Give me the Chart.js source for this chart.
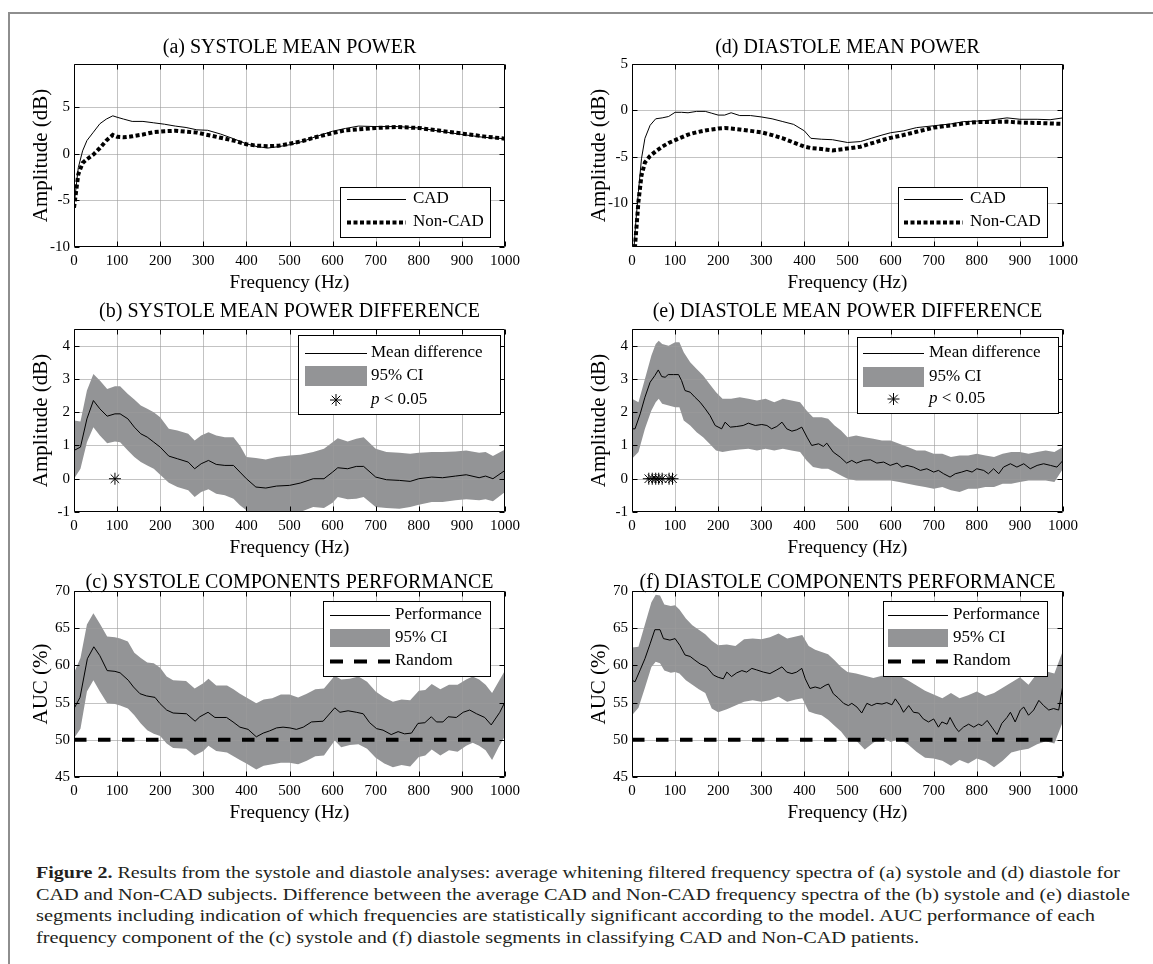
<!DOCTYPE html>
<html>
<head>
<meta charset="utf-8">
<title>Figure 2</title>
<script src="https://cdn.jsdelivr.net/npm/chart.js@4.4.1/dist/chart.umd.min.js"></script>
<style>
  html, body { margin: 0; padding: 0; background: #fff; }
  body { width: 1153px; height: 964px; position: relative; overflow: hidden; font-family: "Liberation Serif", serif; }
  #frame { position: absolute; left: 8px; top: 12px; width: 1200px; height: 1000px; border-left: 2px solid #8e8e8e; border-top: 2px solid #8e8e8e; }
  canvas { position: absolute; }
  #caption { position: absolute; left: 36px; top: 862px; font-size: 16px; line-height: 21.7px; color: #231f20; white-space: nowrap; }
  #caption div { transform-origin: 0 50%; width: max-content; }
</style>
</head>
<body>
<div id="frame"></div>
<div id="caption">
  <div><b>Figure 2.</b> Results from the systole and diastole analyses: average whitening filtered frequency spectra of (a) systole and (d) diastole for</div>
  <div>CAD and Non-CAD subjects. Difference between the average CAD and Non-CAD frequency spectra of the (b) systole and (e) diastole</div>
  <div>segments including indication of which frequencies are statistically significant according to the model. AUC performance of each</div>
  <div>frequency component of the (c) systole and (f) diastole segments in classifying CAD and Non-CAD patients.</div>
</div>
<script>
// ---- data ----
const freqTicks = [0, 100, 200, 300, 400, 500, 600, 700, 800, 900, 1000];
const ampTicks = [-10, -5, 0, 5];
const diffTicks = [-1, 0, 1, 2, 3, 4];
const aucTicks = [45, 50, 55, 60, 65, 70];
const rangeA = [-10, 9.6];
const rangeD = [-14.7, 5];
const rangeDiff = [-1, 4.5];
const rangeAuc = [45, 70];

// (a) systole mean power
const freqA = [0,10,20,30,45,60,75,90,100,115,135,160,185,210,235,260,285,310,340,370,400,425,450,475,500,530,560,600,630,660,700,750,800,850,900,950,1000];
const cadA = [-5.6,-1.5,0.3,1.4,2.3,3.2,3.7,4.05,3.9,3.7,3.45,3.45,3.3,3.15,2.95,2.8,2.55,2.5,2.1,1.6,1.05,0.75,0.6,0.75,0.95,1.3,1.8,2.4,2.7,2.95,2.9,2.9,2.75,2.4,2.05,1.75,1.6];
const nonCadA = [-5.8,-2.2,-1.0,-0.6,-0.1,0.6,1.4,2.0,1.8,1.75,1.85,2.05,2.3,2.4,2.45,2.35,2.25,2.0,1.7,1.4,1.0,0.85,0.8,0.85,1.05,1.35,1.75,2.2,2.5,2.6,2.75,2.85,2.75,2.45,2.15,1.85,1.6];

// (d) diastole mean power
const freqD = [0,8,15,22,30,42,55,70,85,100,115,130,150,170,185,200,215,230,250,275,300,325,350,375,400,415,440,465,500,530,555,580,600,630,660,700,740,770,800,830,870,900,940,970,1000];
const cadD = [-18,-12.5,-8.7,-5.2,-3.0,-1.6,-0.9,-0.8,-0.65,-0.2,-0.2,-0.25,-0.1,-0.1,-0.3,-0.5,-0.5,-0.25,-0.55,-0.55,-0.7,-0.9,-1.2,-1.5,-2.2,-3.0,-3.1,-3.15,-3.45,-3.35,-3.0,-2.65,-2.4,-2.2,-1.85,-1.65,-1.45,-1.2,-1.15,-1.05,-0.8,-0.95,-0.95,-1.0,-0.8];
const nonCadD = [-19,-14.0,-9.8,-7.0,-5.6,-4.9,-4.4,-3.9,-3.5,-3.2,-2.9,-2.6,-2.35,-2.15,-2.05,-1.95,-1.9,-1.95,-2.05,-2.2,-2.35,-2.65,-3.0,-3.45,-3.9,-4.05,-4.15,-4.3,-4.1,-3.9,-3.55,-3.2,-2.95,-2.65,-2.3,-1.85,-1.6,-1.4,-1.25,-1.25,-1.2,-1.3,-1.35,-1.4,-1.45];

// (b) systole mean power difference
const freqB = [0,15,30,45,60,77,95,107,125,140,155,170,185,200,220,240,265,280,295,312,330,350,370,385,400,422,445,470,500,525,555,580,600,612,635,655,672,700,725,755,780,800,830,855,885,910,940,955,972,1000];
const meanB = [0.85,0.95,1.8,2.35,2.1,1.88,1.95,1.95,1.8,1.55,1.35,1.25,1.1,0.95,0.68,0.6,0.5,0.3,0.45,0.55,0.43,0.4,0.4,0.2,0.0,-0.25,-0.28,-0.22,-0.2,-0.13,0.0,0.0,0.2,0.33,0.3,0.37,0.37,0.05,-0.03,-0.05,-0.08,0.0,0.05,0.03,0.08,0.12,0.03,0.08,0.0,0.25];
const upperB = [1.75,1.72,2.65,3.15,2.95,2.7,2.78,2.78,2.55,2.38,2.2,2.1,2.0,1.85,1.5,1.45,1.35,1.15,1.3,1.4,1.3,1.25,1.25,1.0,0.65,0.62,0.58,0.65,0.7,0.72,0.8,0.9,1.1,1.22,1.12,1.2,1.25,0.9,0.8,0.78,0.75,0.78,0.8,0.8,0.82,0.85,0.78,0.8,0.68,0.88];
const lowerB = [0.0,0.3,1.1,1.55,1.3,1.07,1.12,1.1,0.85,0.65,0.5,0.4,0.3,0.12,-0.12,-0.25,-0.35,-0.55,-0.4,-0.32,-0.45,-0.5,-0.6,-0.8,-0.95,-1.15,-1.2,-1.15,-1.1,-1.0,-0.85,-0.88,-0.72,-0.55,-0.62,-0.6,-0.55,-0.85,-0.88,-0.9,-0.85,-0.78,-0.7,-0.7,-0.65,-0.62,-0.65,-0.62,-0.68,-0.4];
const signifB = [95];

// (e) diastole mean power difference
const freqEMean = [0,7,19,30,42,53,61,69,77,84,96,108,115,123,135,146,158,170,181,193,208,216,228,243,258,270,286,301,313,324,336,348,359,371,382,394,406,417,433,444,452,467,483,498,510,521,537,553,568,584,599,615,626,638,653,669,684,700,711,723,738,750,765,777,789,800,816,827,839,851,862,878,893,909,924,940,955,971,986,1000];
const meanE = [1.5,1.5,1.95,2.45,2.9,3.1,3.27,3.07,3.05,3.13,3.13,3.13,2.95,2.65,2.6,2.45,2.3,2.1,1.9,1.6,1.5,1.7,1.55,1.57,1.6,1.67,1.6,1.63,1.6,1.5,1.57,1.7,1.5,1.43,1.47,1.55,1.25,1.0,1.05,0.97,1.07,0.8,0.65,0.47,0.55,0.47,0.55,0.57,0.47,0.5,0.4,0.47,0.35,0.4,0.35,0.25,0.3,0.2,0.25,0.15,0.05,0.15,0.2,0.25,0.2,0.3,0.25,0.15,0.3,0.15,0.35,0.45,0.35,0.45,0.3,0.4,0.45,0.4,0.35,0.55];
const freqEBand = [0,15,30,45,55,62,70,85,100,110,120,135,150,165,180,195,210,230,250,270,290,310,330,350,370,390,405,420,440,455,470,485,500,520,540,560,580,600,620,640,660,680,700,720,740,760,780,800,820,840,860,880,900,920,940,960,980,1000];
const upperE = [2.4,2.3,3.0,3.7,4.05,4.15,4.05,4.0,4.1,4.1,3.8,3.5,3.3,3.1,2.85,2.6,2.4,2.4,2.45,2.4,2.35,2.4,2.3,2.4,2.35,2.3,2.05,1.85,1.85,1.8,1.6,1.45,1.25,1.3,1.25,1.2,1.15,1.15,1.05,0.95,0.85,0.85,0.75,0.75,0.65,0.7,0.7,0.75,0.7,0.65,0.75,0.8,0.8,0.75,0.8,0.85,0.8,0.95];
const lowerE = [0.6,0.8,1.5,2.05,2.3,2.4,2.25,2.2,2.15,2.15,1.75,1.6,1.4,1.25,1.05,0.85,0.8,0.85,0.88,0.9,0.85,0.9,0.85,0.9,0.85,0.8,0.55,0.35,0.3,0.3,0.2,0.1,0.0,-0.05,-0.05,-0.05,-0.05,-0.05,-0.1,-0.15,-0.2,-0.25,-0.3,-0.25,-0.35,-0.4,-0.3,-0.3,-0.25,-0.25,-0.15,-0.15,-0.1,-0.05,-0.05,-0.05,-0.1,0.3];
const signifE = [39, 47, 55, 62, 70, 86, 94];

// (c) systole components performance
const freqCMean = [0,14,31,46,60,77,95,107,126,138,153,168,188,199,215,230,261,281,292,311,327,354,369,385,404,423,439,454,470,485,501,516,532,551,578,605,617,636,655,671,686,702,717,736,752,767,783,798,814,829,841,856,868,887,903,918,934,953,968,988,1000];
const perfC = [54.2,55.7,60.9,62.5,61.3,59.3,59.2,59.0,58.0,57.1,56.2,55.9,55.7,54.9,54.0,53.6,53.5,52.5,53.1,53.7,53.0,53.0,52.4,51.7,51.4,50.4,50.9,51.2,51.6,51.7,51.6,51.4,51.7,52.4,52.5,54.3,53.7,53.9,53.7,53.5,52.3,51.5,51.3,50.7,51.1,50.8,50.9,52.2,52.3,53.1,52.4,52.4,53.1,53.0,53.7,54.0,53.5,53.0,52.0,53.7,55.1];
const freqCBand = [0,15,30,45,60,77,95,107,125,140,155,170,185,200,215,230,260,280,300,312,330,355,370,385,400,423,440,460,480,500,520,540,560,580,605,620,640,660,680,700,720,740,760,780,800,815,830,850,870,890,910,925,940,955,970,985,1000];
const upperC = [59,61,65.5,67,65.6,63.9,63.8,63.6,63.2,61.7,61.0,60.4,60.3,59.7,58.5,58.0,57.9,56.9,57.6,58.2,57.3,57.3,56.8,56.2,55.7,54.9,55.4,55.6,56.1,56.1,55.7,56.2,56.8,56.9,58.6,58.1,58.2,58.5,57.8,56.5,55.7,55.1,55.4,55.3,56.6,56.7,57.5,56.8,57.4,57.4,58.1,58.5,58.1,57.4,56.3,57.8,59.3];
const lowerC = [50.2,51.5,56.5,58,56.5,54.9,54.8,54.6,54.2,53.3,52.2,51.3,50.8,50.5,49.5,48.9,48.8,47.9,48.5,49.2,48.5,48.3,47.8,47.3,46.8,46.0,46.5,46.7,46.9,46.9,46.7,47.2,47.8,47.9,49.9,49.0,49.3,49.4,48.8,47.6,46.8,46.3,46.6,46.4,47.7,47.9,48.7,47.9,48.6,48.4,49.2,49.6,49.2,48.6,47.3,49.0,50.5];

// (f) diastole components performance
const freqFMean = [0,7,19,30,42,53,65,73,88,100,111,123,135,146,158,173,189,200,212,220,231,243,255,266,278,289,305,320,336,348,359,371,382,394,402,413,425,437,448,456,467,479,491,502,510,522,533,545,556,568,580,591,603,611,622,630,642,653,665,676,688,700,711,719,731,738,750,758,769,781,793,804,812,824,835,847,858,870,878,889,901,909,920,932,944,955,967,978,990,1000];
const perfF = [58.0,57.8,59.4,60.9,62.9,64.8,64.8,63.6,63.4,63.6,62.7,61.4,61.2,60.7,60.2,59.8,58.7,58.4,58.2,59.1,58.5,59.0,59.3,59.1,59.6,59.4,59.1,58.9,59.4,59.8,59.1,58.9,59.1,59.6,58.2,56.9,57.1,56.9,57.3,57.5,56.2,55.6,54.9,54.6,54.9,54.4,53.6,54.9,54.6,54.9,54.8,55.0,54.7,55.5,54.6,53.7,54.6,53.7,53.6,52.8,52.4,52.8,51.7,52.4,52.1,53.0,51.7,51.1,51.7,52.1,51.7,52.1,51.9,52.6,51.7,50.7,52.2,53.0,53.7,52.4,54.0,54.4,53.3,54.0,55.3,54.6,54.0,54.2,54.0,57.4];
const freqFBand = [0,15,30,45,55,65,75,90,100,110,125,140,155,170,185,200,220,240,260,280,300,320,340,360,380,395,410,425,440,455,470,485,500,520,540,560,580,600,620,640,660,680,700,720,740,760,780,800,820,840,860,880,900,920,940,960,980,1000];
const upperF = [62.4,62.5,65.5,68.5,69.5,69.4,68.2,68.0,68.1,67.5,66.3,65.4,64.8,64.2,63.3,62.7,62.8,62.6,63.5,63.6,63.5,63.8,64.3,63.6,63.9,64.1,62.6,62.1,61.8,61.5,60.7,59.8,59.1,58.9,58.6,58.3,58.6,58.5,58.6,58.0,57.3,56.6,56.1,55.6,56.3,55.6,56.0,56.5,55.9,56.3,57.0,57.7,58.4,57.4,58.9,59.2,58.9,62.0];
const lowerF = [53.3,54.3,57.0,59.8,60.5,60.3,59.3,59.0,59.1,58.9,58.0,57.4,56.8,56.3,54.2,53.7,54.1,54.6,55.1,55.3,55.1,55.3,55.8,55.1,55.4,55.6,53.8,53.5,53.3,52.7,51.9,51.1,50.0,49.9,48.7,49.6,50.3,49.7,50.1,49.4,48.4,47.6,47.5,47.2,46.5,47.3,46.8,47.5,47.1,46.3,47.2,48.3,48.6,48.8,49.4,49.8,49.5,52.5];
const randomLevel = 50;

// ---- text ----
const SERIF = '"Liberation Serif", serif';
const BAND = '#939496';
const LBL_CAD = 'CAD', LBL_NONCAD = 'Non-CAD', LBL_MEAN = 'Mean difference', LBL_CI = '95% CI';
const LBL_PERF = 'Performance', LBL_RANDOM = 'Random';
const LBL_FREQ = 'Frequency (Hz)', LBL_AMP = 'Amplitude (dB)', LBL_AUC = 'AUC (%)';

// ---- layout ----
const rows = [
  { top: 30, titleY: 48, plotTop: 64, plotBottom: 247 },
  { top: 297, titleY: 312, plotTop: 329, plotBottom: 512 },
  { top: 562, titleY: 583, plotTop: 591, plotBottom: 777 }
];
const cols = [{ plotLeft: 74, plotRight: 505 }, { plotLeft: 632, plotRight: 1063 }];
const YW = 62, XH = 50, TFONT = 20, XFONT = 19, YFONT = 21;

const pts = (xs, ys) => xs.map((x, i) => ({ x: x, y: ys[i] }));
const solid = (label, xs, ys, order) => ({ label, data: pts(xs, ys), borderColor: '#000', borderWidth: 1, pointRadius: 0, fill: false, order });
const dotted = (label, xs, ys, order) => ({ label, data: pts(xs, ys), borderColor: '#000', borderWidth: 4, borderDash: [4, 2.5], borderCapStyle: 'butt', pointRadius: 0, fill: false, order });
const band = (xs, lo, hi) => [
  { label: LBL_CI, data: pts(xs, hi), borderColor: 'rgba(0,0,0,0)', borderWidth: 0, backgroundColor: BAND, fill: '+1', pointRadius: 0, order: 5, gridOver: true },
  { label: LBL_CI + ' low', data: pts(xs, lo), borderColor: 'rgba(0,0,0,0)', borderWidth: 0, fill: false, pointRadius: 0, order: 6 }
];
const stars = (xs) => ({ label: 'p', data: xs.map(x => ({ x: x, y: 0 })), showLine: false, pointStyle: 'star', pointRadius: 6, pointBorderColor: '#000', pointBackgroundColor: '#000', pointBorderWidth: 1, order: 0 });
const flat = (label, v) => ({ label, data: pts([0, 1000], [v, v]), borderColor: '#000', borderWidth: 4, borderDash: [12.5, 11.5], borderCapStyle: 'butt', pointRadius: 0, fill: false, order: 0 });

const legends = {
  chartA: { right: 15, bottom: 10, width: 150, height: 50, sym: [7, 66], textX: 73, rows: [{ y: 12, kind: 'solid', label: LBL_CAD }, { y: 35, kind: 'dotted', label: LBL_NONCAD }] },
  chartD: { right: 16, bottom: 10, width: 149, height: 50, sym: [6, 65], textX: 72, rows: [{ y: 12, kind: 'solid', label: LBL_CAD }, { y: 35, kind: 'dotted', label: LBL_NONCAD }] },
  chartB: { right: 5, top: 6, width: 202, height: 79, sym: [7, 69], textX: 73, rows: [{ y: 18, kind: 'solid', label: LBL_MEAN }, { y: 41, kind: 'band', h: 20, label: LBL_CI }, { y: 65, kind: 'star', lead: 'p', label: ' < 0.05' }] },
  chartE: { right: 5, top: 8, width: 201, height: 76, sym: [6, 67], textX: 72, rows: [{ y: 16, kind: 'solid', label: LBL_MEAN }, { y: 40, kind: 'band', h: 20, label: LBL_CI }, { y: 62, kind: 'star', lead: 'p', label: ' < 0.05' }] },
  chartC: { right: 15, top: 10, width: 167, height: 75, sym: [7, 67], textX: 72, rows: [{ y: 14, kind: 'solid', label: LBL_PERF }, { y: 37, kind: 'band', h: 18, label: LBL_CI }, { y: 60, kind: 'dashed', label: LBL_RANDOM }] },
  chartF: { right: 16, top: 10, width: 164, height: 75, sym: [5, 65], textX: 70, rows: [{ y: 14, kind: 'solid', label: LBL_PERF }, { y: 37, kind: 'band', h: 18, label: LBL_CI }, { y: 60, kind: 'dashed', label: LBL_RANDOM }] }
};

function tickPixels(scale) {
  return scale.ticks.map(t => Math.round(scale.getPixelForValue(t.value)) + 0.5);
}

function drawGrid(chart) {
  const ctx = chart.ctx, a = chart.chartArea;
  ctx.save();
  ctx.setLineDash([]);
  ctx.globalAlpha = 1;
  ctx.strokeStyle = 'rgba(155,155,155,0.6)';
  ctx.lineWidth = 1;
  ctx.beginPath();
  tickPixels(chart.scales.x).forEach(p => {
    if (p > a.left + 1 && p < a.right - 1) { ctx.moveTo(p, a.top); ctx.lineTo(p, a.bottom); }
  });
  tickPixels(chart.scales.y).forEach(p => {
    if (p > a.top + 1 && p < a.bottom - 1) { ctx.moveTo(a.left, p); ctx.lineTo(a.right, p); }
  });
  ctx.stroke();
  ctx.restore();
}

function drawFrame(chart) {
  const ctx = chart.ctx, a = chart.chartArea;
  const l = Math.round(a.left) + 0.5, r = Math.round(a.right) - 0.5;
  const t = Math.round(a.top) + 0.5, b = Math.round(a.bottom) - 0.5;
  ctx.save();
  ctx.setLineDash([]);
  ctx.globalAlpha = 1;
  ctx.strokeStyle = '#000';
  ctx.lineWidth = 1;
  ctx.beginPath();
  ctx.rect(l, t, r - l, b - t);
  tickPixels(chart.scales.x).forEach(p => {
    ctx.moveTo(p, b); ctx.lineTo(p, b - 5);
    ctx.moveTo(p, t); ctx.lineTo(p, t + 5);
  });
  tickPixels(chart.scales.y).forEach(p => {
    ctx.moveTo(l, p); ctx.lineTo(l + 5, p);
    ctx.moveTo(r, p); ctx.lineTo(r - 5, p);
  });
  ctx.stroke();
  ctx.restore();
}

function drawStar(ctx, cx, cy, r) {
  ctx.beginPath();
  for (let k = 0; k < 4; k++) {
    const ang = k * Math.PI / 4;
    ctx.moveTo(cx - r * Math.cos(ang), cy - r * Math.sin(ang));
    ctx.lineTo(cx + r * Math.cos(ang), cy + r * Math.sin(ang));
  }
  ctx.stroke();
}

function drawLegend(chart) {
  const lg = legends[chart.canvas.id];
  if (!lg) return;
  const ctx = chart.ctx, a = chart.chartArea;
  const left = Math.round(a.right - lg.right - lg.width);
  const top = Math.round(lg.top !== undefined ? a.top + lg.top : a.bottom - lg.bottom - lg.height);
  ctx.save();
  ctx.setLineDash([]);
  ctx.fillStyle = '#fff';
  ctx.fillRect(left, top, lg.width, lg.height);
  ctx.strokeStyle = '#000';
  ctx.lineWidth = 1;
  ctx.strokeRect(left + 0.5, top + 0.5, lg.width, lg.height);
  ctx.textBaseline = 'middle';
  lg.rows.forEach(r => {
    const y = top + r.y, x0 = left + lg.sym[0], x1 = left + lg.sym[1];
    ctx.save();
    ctx.strokeStyle = '#000';
    if (r.kind === 'band') {
      ctx.fillStyle = BAND;
      ctx.fillRect(x0, y - r.h / 2, x1 - x0, r.h);
    } else if (r.kind === 'star') {
      ctx.lineWidth = 1;
      drawStar(ctx, (x0 + x1) / 2, y, 6);
    } else {
      ctx.lineWidth = r.kind === 'solid' ? 1 : 4;
      ctx.setLineDash(r.kind === 'dotted' ? [4, 2.5] : r.kind === 'dashed' ? [13, 11] : []);
      ctx.beginPath();
      ctx.moveTo(x0, y + 0.5); ctx.lineTo(x1, y + 0.5);
      ctx.stroke();
    }
    ctx.restore();
    ctx.fillStyle = '#000';
    let tx = left + lg.textX;
    if (r.lead) {
      ctx.font = 'italic 17px ' + SERIF;
      ctx.fillText(r.lead, tx, y);
      tx += ctx.measureText(r.lead).width;
    }
    ctx.font = '17px ' + SERIF;
    ctx.fillText(r.label, tx, y);
  });
  ctx.restore();
}

const matlabAxes = {
  id: 'matlabAxes',
  beforeDatasetsDraw(chart) { if (!chart.data.datasets.some(d => d.gridOver)) drawGrid(chart); },
  afterDatasetDraw(chart, args) { if (chart.data.datasets[args.index].gridOver) drawGrid(chart); },
  afterDraw(chart) { drawFrame(chart); drawLegend(chart); }
};

function makeChart(id, rowIdx, colIdx, title, yTitle, yTicks, yRange, datasets) {
  const row = rows[rowIdx], col = cols[colIdx];
  const canvas = document.createElement('canvas');
  canvas.id = id;
  canvas.width = col.plotRight - col.plotLeft + 2 * YW;
  canvas.height = row.plotBottom + XH - row.top;
  canvas.style.left = (col.plotLeft - YW) + 'px';
  canvas.style.top = row.top + 'px';
  document.body.appendChild(canvas);
  const padTop = row.titleY - row.top - TFONT / 2;
  const padBottom = row.plotTop - row.top - padTop - TFONT;
  return new Chart(canvas, {
    type: 'line',
    data: { datasets },
    options: {
      responsive: false,
      animation: false,
      devicePixelRatio: 1,
      layout: { padding: { left: 0, right: YW, top: 0, bottom: 0 } },
      plugins: {
        legend: { display: false },
        tooltip: { enabled: false },
        title: {
          display: true, text: title, fullSize: false, color: '#000',
          font: { family: SERIF, size: TFONT, weight: 'normal', lineHeight: 1 },
          padding: { top: padTop, bottom: padBottom }
        }
      },
      scales: {
        x: {
          type: 'linear', min: 0, max: 1000,
          grid: { display: false, drawTicks: false, tickLength: 0 }, border: { display: false },
          afterBuildTicks: s => { s.ticks = freqTicks.map(v => ({ value: v })); },
          afterFit: s => { s.height = XH; },
          ticks: { autoSkip: false, maxRotation: 0, padding: 5, color: '#000', font: { family: SERIF, size: 15 }, callback: v => String(v) },
          title: { display: true, text: LBL_FREQ, color: '#000', font: { family: SERIF, size: XFONT, lineHeight: 1 }, padding: { top: 0, bottom: 14 - XFONT / 2 } }
        },
        y: {
          min: yRange[0], max: yRange[1],
          grid: { display: false, drawTicks: false, tickLength: 0 }, border: { display: false },
          afterBuildTicks: s => { s.ticks = yTicks.map(v => ({ value: v })); },
          afterFit: s => { s.width = YW; },
          ticks: { padding: 4, color: '#000', font: { family: SERIF, size: 15 }, callback: v => String(v) },
          title: { display: true, text: yTitle, color: '#000', font: { family: SERIF, size: YFONT, lineHeight: 1 }, padding: { top: 29 - YFONT / 2, bottom: 0 } }
        }
      }
    },
    plugins: [matlabAxes]
  });
}

makeChart('chartA', 0, 0, '(a) SYSTOLE MEAN POWER', LBL_AMP, ampTicks, rangeA,
  [solid(LBL_CAD, freqA, cadA, 1), dotted(LBL_NONCAD, freqA, nonCadA, 0)]);
makeChart('chartD', 0, 1, '(d) DIASTOLE MEAN POWER', LBL_AMP, ampTicks, rangeD,
  [solid(LBL_CAD, freqD, cadD, 1), dotted(LBL_NONCAD, freqD, nonCadD, 0)]);
makeChart('chartB', 1, 0, '(b) SYSTOLE MEAN POWER DIFFERENCE', LBL_AMP, diffTicks, rangeDiff,
  [solid(LBL_MEAN, freqB, meanB, 1), stars(signifB)].concat(band(freqB, lowerB, upperB)));
makeChart('chartE', 1, 1, '(e) DIASTOLE MEAN POWER DIFFERENCE', LBL_AMP, diffTicks, rangeDiff,
  [solid(LBL_MEAN, freqEMean, meanE, 1), stars(signifE)].concat(band(freqEBand, lowerE, upperE)));
makeChart('chartC', 2, 0, '(c) SYSTOLE COMPONENTS PERFORMANCE', LBL_AUC, aucTicks, rangeAuc,
  [solid(LBL_PERF, freqCMean, perfC, 1), flat(LBL_RANDOM, randomLevel)].concat(band(freqCBand, lowerC, upperC)));
makeChart('chartF', 2, 1, '(f) DIASTOLE COMPONENTS PERFORMANCE', LBL_AUC, aucTicks, rangeAuc,
  [solid(LBL_PERF, freqFMean, perfF, 1), flat(LBL_RANDOM, randomLevel)].concat(band(freqFBand, lowerF, upperF)));

// fit caption lines to the printed widths
const captionWidths = [1084, 1094, 1059, 883];
document.fonts.ready.then(() => {
  document.querySelectorAll('#caption div').forEach((d, i) => {
    const w = d.getBoundingClientRect().width;
    if (w > 0) d.style.transform = 'scaleX(' + (captionWidths[i] / w).toFixed(4) + ')';
  });
});
</script>
</body>
</html>
